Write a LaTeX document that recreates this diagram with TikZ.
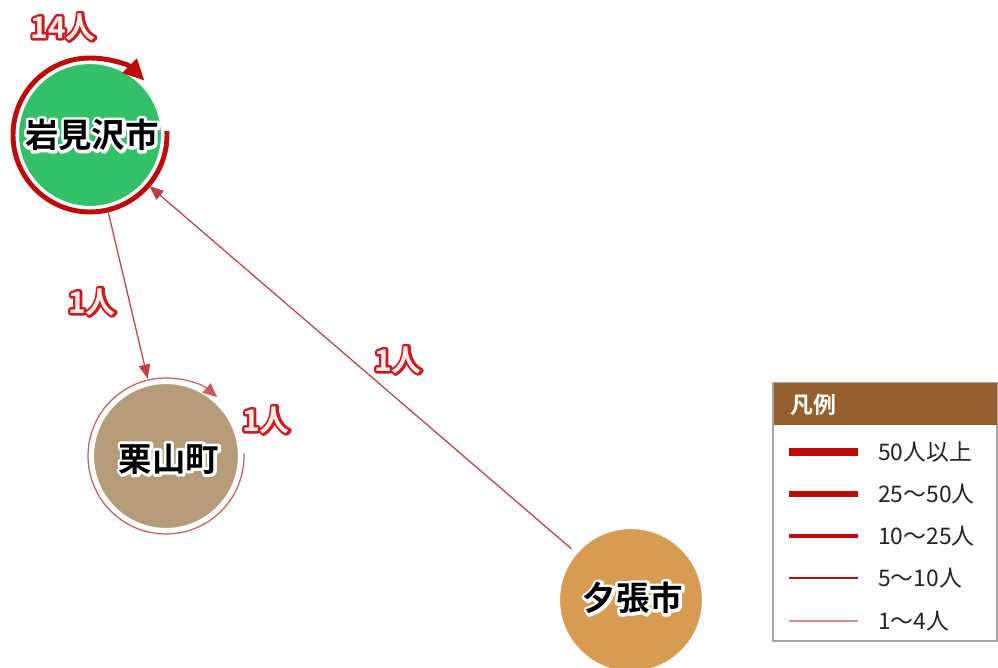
\documentclass[tikz,border=0pt]{standalone}
\usepackage{fontspec}
\setmainfont{Noto Sans CJK JP}
\newfontfamily\cjk{Noto Sans CJK JP}
\newfontfamily\cjkb{Noto Sans CJK JP Bold}
\usetikzlibrary{arrows.meta}
\definecolor{cgreen}{RGB}{50,192,105}
\definecolor{ctan}{RGB}{181,155,120}
\definecolor{corange}{RGB}{216,155,82}
\definecolor{ringred}{RGB}{192,10,10}
\definecolor{edgered}{RGB}{195,60,65}
\definecolor{labfill}{RGB}{255,236,228}
\definecolor{legbrown}{RGB}{150,96,46}
\definecolor{legtext}{RGB}{35,35,35}
% stroke-only copies (render mode 1) used as outlines behind the text
\newcommand{\redhalo}[1]{\textcolor{labfill}{\special{pdf:literal direct 1 Tr 2.8 w 1 j 0.80 0.10 0.14 RG}#1\special{pdf:literal direct 0 Tr 0.4 w}}}
\newcommand{\whitehalo}[1]{\textcolor{white}{\special{pdf:literal direct 1 Tr 3.4 w 1 j 1 1 1 RG}#1\special{pdf:literal direct 0 Tr 0.4 w}}}
\begin{document}
\begin{tikzpicture}[x=0.02cm,y=-0.02cm,
  city/.style={circle, draw=white, line width=1.2pt, outer sep=0.13cm, inner sep=0pt},
  cityname/.style={font=\cjkb\fontsize{19}{22}\selectfont, inner sep=0pt},
  flow/.style={draw=edgered, line width=0.7pt, -{Triangle[length=8pt,width=6.5pt]}},
  bigring/.style={draw=ringred, line width=2.8pt, -{Triangle[length=12pt,width=11pt]}},
  thinring/.style={draw=edgered!85, line width=0.7pt, -{Triangle[length=8pt,width=7pt]}},
  numtext/.style={font=\cjkb\fontsize{17}{20}\selectfont, inner sep=0pt},
  legline/.style={draw=ringred},
  legtxt/.style={anchor=west, text=legtext, font=\cjk\fontsize{13}{15}\selectfont}]
\useasboundingbox (0,0) rectangle (998,668);
% cities
\node[city, fill=cgreen, minimum size=2.88cm] (iwa) at (90,135) {};
\node[city, fill=ctan, minimum size=2.92cm] (kuri) at (166,456) {};
\node[city, fill=corange, minimum size=2.88cm] (yub) at (631,600) {};
% self rings
\draw[bigring] (iwa.center) ++(3:1.54cm) arc[start angle=3, end angle=-315, radius=1.54cm];
\draw[thinring] (kuri.center) ++(2:1.56cm) arc[start angle=2, end angle=-311, radius=1.56cm];
% flows
\draw[flow] (iwa) -- (kuri);
\draw[flow] (yub) -- (iwa);
% legend
\draw[draw=gray!70, line width=0.6pt] (773,383) rectangle (997,641);
\fill[legbrown] (773.5,383.5) rectangle (996.5,425);
\node[anchor=west, text=white, font=\cjkb\fontsize{13}{15}\selectfont] (legt) at (784,405) {凡例};
\coordinate (a1) at (789,452); \coordinate (b1) at (858,452);
\coordinate (a2) at (789,494); \coordinate (b2) at (858,494);
\coordinate (a3) at (789,536); \coordinate (b3) at (858,536);
\coordinate (a4) at (789,578); \coordinate (b4) at (858,578);
\coordinate (a5) at (789,621); \coordinate (b5) at (858,621);
\draw[legline, line width=4pt] (a1) -- (b1);
\draw[legline, line width=3.3pt] (a2) -- (b2);
\draw[legline, line width=2.3pt] (a3) -- (b3);
\draw[legline, line width=1.1pt] (a4) -- (b4);
\draw[draw=edgered!60, line width=0.7pt] (a5) -- (b5);
\node[legtxt] (t1) at (872,452) {50人以上};
\node[legtxt] (t2) at (872,494) {25～50人};
\node[legtxt] (t3) at (872,536) {10～25人};
\node[legtxt] (t4) at (872,578) {5～10人};
\node[legtxt] (t5) at (872,621) {1～4人};
% city labels (halo + text)
\node[cityname] (iwah) at (92,135) {\whitehalo{岩見沢市}};
\node[cityname] (kurih) at (169,459) {\whitehalo{栗山町}};
\node[cityname] (yubh) at (633,598) {\whitehalo{夕張市}};
\node[cityname] (iwat) at (92,135) {岩見沢市};
\node[cityname] (kurit) at (169,459) {栗山町};
\node[cityname] (yubt) at (633,598) {夕張市};
% number labels (red outline + pale fill)
\node[numtext] (l14h) at (63,27) {\redhalo{14人}};
\node[numtext] (l1ah) at (92,302) {\redhalo{1人}};
\node[numtext] (l1bh) at (266,420) {\redhalo{1人}};
\node[numtext] (l1ch) at (398,360) {\redhalo{1人}};
\node[numtext, text=labfill] (l14) at (63,27) {14人};
\node[numtext, text=labfill] (l1a) at (92,302) {1人};
\node[numtext, text=labfill] (l1b) at (266,420) {1人};
\node[numtext, text=labfill] (l1c) at (398,360) {1人};
\end{tikzpicture}
\end{document}
